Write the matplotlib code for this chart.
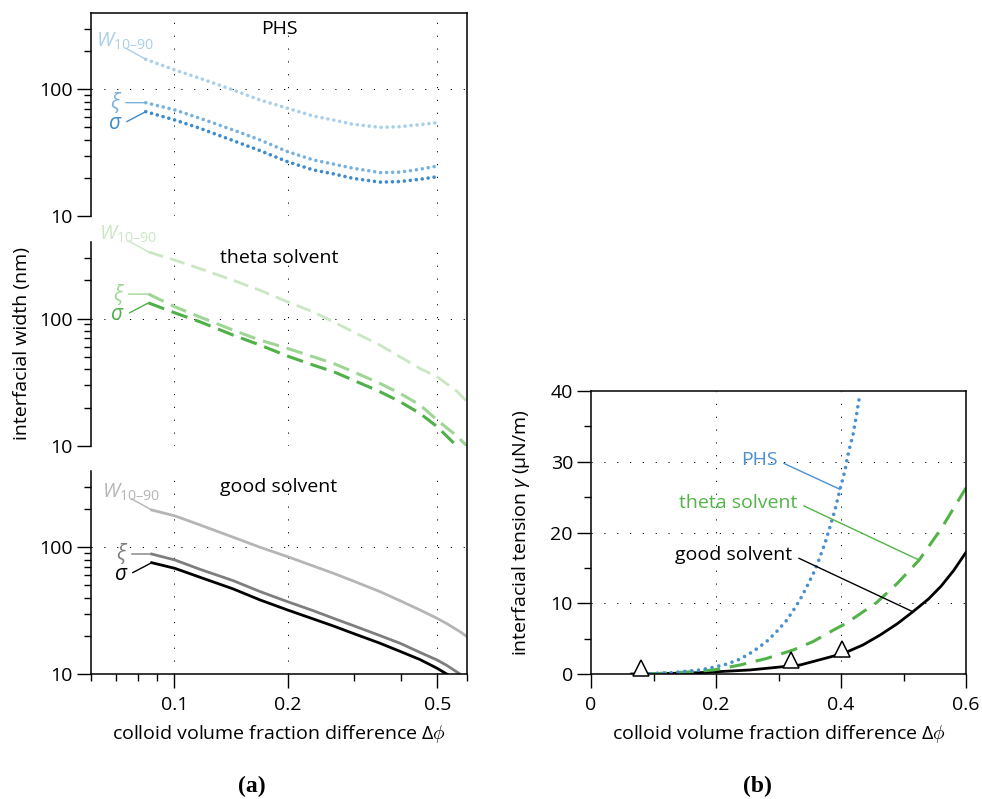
import numpy as np
import matplotlib.pyplot as plt
from matplotlib.lines import Line2D
from matplotlib.ticker import FixedLocator, FixedFormatter, NullFormatter

plt.rcParams['font.family'] = ['Open Sans', 'DejaVu Sans']
plt.rcParams['mathtext.fontset'] = 'custom'
plt.rcParams['mathtext.rm'] = 'Open Sans'
plt.rcParams['mathtext.it'] = 'Open Sans:italic'
plt.rcParams['font.size'] = 14

# ---- panel (a): interfacial widths (nm) vs delta phi ----
# PHS
phs_phi = [0.0839, 0.1003, 0.117, 0.1434, 0.169, 0.2, 0.234, 0.265, 0.299,
           0.352, 0.398, 0.45, 0.4995]
phs_w = [172.5, 142, 122, 98.7, 82.3, 70.8, 61.5, 57.2, 52.9, 50.1, 50.7, 52.6, 54.5]
phs_xi = [78.4, 68.7, 59.0, 47.7, 39.8, 32.2, 27.7, 25.7, 23.8, 22.0, 22.2, 23.4, 24.8]
phs_sig = [66.6, 57.2, 49.2, 39.3, 32.8, 26.8, 23.1, 21.5, 19.8, 18.5, 18.7, 19.5, 20.4]

# theta solvent
theta_phi = [0.0853, 0.1003, 0.117, 0.1434, 0.169, 0.2, 0.234, 0.265, 0.299,
             0.352, 0.398, 0.45, 0.4995, 0.5634, 0.6]
theta_w = [334, 288, 247, 200, 167, 135.5, 113, 94.4, 78.8, 62.0, 50.2, 40.6,
           35.0, 27.0, 22.3]
theta_xi = [156, 124, 103, 81.2, 67.8, 58.4, 50.2, 44.5, 38.3, 31.0, 25.9, 21.0,
            16.0, 12.0, 10.0]
theta_sig = [133, 111, 94.4, 74.2, 62.0, 50.8, 43.2, 38.3, 32.9, 26.7, 22.3,
             18.0, 14.2, 10.0, 8.4]

# good solvent
good_phi = [0.087, 0.1003, 0.117, 0.1434, 0.169, 0.2, 0.234, 0.265, 0.299,
            0.352, 0.398, 0.45, 0.4995, 0.53, 0.5746, 0.6]
good_w = [197, 177, 150, 120, 100, 84.3, 71.2, 62.3, 54.2, 44.7, 37.9, 32.0,
          27.5, 25.0, 21.6, 19.7]
good_xi = [88.5, 79.4, 67.0, 54.5, 44.7, 37.2, 31.6, 27.5, 24.1, 20.1, 17.5,
           14.8, 12.9, 11.7, 10.0, 9.1]
good_sig = [75.6, 68.2, 58.0, 46.9, 38.4, 32.0, 27.2, 23.9, 20.9, 17.5, 15.1,
            13.0, 11.1, 10.0, 8.4, 7.5]

# ---- panel (b): interfacial tension (uN/m) ----
phs_t_phi = [0.095, 0.13, 0.1744, 0.1957, 0.2171, 0.2384, 0.2597, 0.2811,
             0.2971, 0.3131, 0.3237, 0.3344, 0.3451, 0.3557, 0.3637, 0.3744,
             0.3824, 0.3904, 0.3984, 0.4064, 0.4117, 0.4197, 0.4251, 0.4304]
phs_t = [0.05, 0.2, 0.57, 0.95, 1.4, 2.1, 3.2, 4.6, 6.0, 7.6, 9.0, 10.5, 12.3,
         14.2, 15.9, 18.5, 20.8, 23.2, 26.1, 28.8, 31.2, 34.0, 36.8, 39.6]
theta_t_phi = [0.095, 0.15, 0.1957, 0.2384, 0.2811, 0.3237, 0.3557, 0.3877,
               0.409, 0.457, 0.49, 0.525, 0.56, 0.6]
theta_t = [0.03, 0.25, 0.57, 1.27, 2.2, 3.4, 4.6, 6.2, 7.2, 10.1, 12.8, 16.1,
           20.5, 26.3]
good_t_phi = [0.065, 0.1, 0.1744, 0.2544, 0.3344, 0.4037, 0.435, 0.4624, 0.49,
              0.515, 0.54, 0.56, 0.58, 0.6]
good_t = [0.0, 0.03, 0.19, 0.57, 1.27, 2.9, 4.1, 5.5, 7.1, 8.8, 10.6, 12.4,
          14.6, 17.2]
tri_phi = [0.08, 0.3195, 0.401]
tri_t = [0.9, 2.0, 3.6]

blues = ['#a9cfea', '#79b1dd', '#3d8bcb']
greens = ['#c9e7c2', '#9fd595', '#4fb048']
greys = ['#b5b5b5', '#7e7e7e', '#000000']
blue_b = '#4a90d0'
green_b = '#52b448'

W = 982
H = 799
fig = plt.figure(figsize=(W / 100, H / 100), dpi=100)


def frac(x0, y0, x1, y1):
    return [x0 / W, 1 - y1 / H, (x1 - x0) / W, (y1 - y0) / H]


grid = dict(color='black', lw=0.7, linestyle=(0, (1.2, 12)))

ax1 = fig.add_axes(frac(91, 13, 467, 216))
ax2 = fig.add_axes(frac(91, 242, 467, 446))
ax3 = fig.add_axes(frac(91, 471, 467, 674))

panels = [
    (ax1, 'PHS', phs_phi, [phs_w, phs_xi, phs_sig], blues, 'dot'),
    (ax2, 'theta solvent', theta_phi, [theta_w, theta_xi, theta_sig], greens, 'dash'),
    (ax3, 'good solvent', good_phi, [good_w, good_xi, good_sig], greys, 'solid'),
]

labels = ['$W_{\\mathrm{10–90}}$', r'$\xi$', r'$\sigma$']
# label offsets (points) relative to curve start: text, leader start
text_off = [(-35.5, 9.0), (-17, 0), (-17, -8.6)]
lead_off = [(-14.4, 8.0), (-14.4, 0), (-13.7, -7.2)]

for ax, title, phi, series, cols, style in panels:
    ax.set_xscale('log')
    ax.set_yscale('log')
    ax.set_xlim(0.06, 0.6)
    ax.set_ylim(10, 400)
    for k, (vals, c) in enumerate(zip(series, cols)):
        if style == 'dot':
            ax.plot(phi, vals, color=c, lw=2.6, linestyle=(0, (0.01, 1.65)),
                    dash_capstyle='round')
        elif style == 'dash':
            ax.plot(phi, vals, color=c, lw=2.0 if k == 0 else 2.2,
                    linestyle=(0, (5.5, 2.6)))
        else:
            ax.plot(phi, vals, color=c, lw=2.0)
        ax.annotate('', xy=(phi[0], vals[0]), xytext=lead_off[k],
                    textcoords='offset points',
                    arrowprops=dict(arrowstyle='-', color=c, lw=1.0,
                                    shrinkA=0, shrinkB=0))
        if k == 0:
            ax.annotate(labels[k], xy=(phi[0], vals[0]), xytext=text_off[k],
                        textcoords='offset points', ha='left', va='baseline',
                        color=c, fontsize=14.5)
        else:
            ax.annotate(labels[k], xy=(phi[0], vals[0]), xytext=text_off[k],
                        textcoords='offset points', ha='right', va='center',
                        color=c, fontsize=15)
    ax.text(0.5, 0.92, title, transform=ax.transAxes, ha='center',
            va='center', fontsize=14)
    for gx in [0.1, 0.2, 0.5]:
        ax.axvline(gx, **grid, zorder=0)
    for gy in [10, 100]:
        ax.axhline(gy, **grid, zorder=0)
    ax.yaxis.set_major_locator(FixedLocator([10, 100]))
    ax.yaxis.set_major_formatter(FixedFormatter(['10', '100']))
    ax.yaxis.set_minor_locator(FixedLocator([20, 30, 40, 50, 60, 70, 80, 90, 200, 300]))
    ax.yaxis.set_minor_formatter(NullFormatter())
    ax.xaxis.set_major_locator(FixedLocator([0.1, 0.2, 0.5]))
    ax.xaxis.set_major_formatter(FixedFormatter(['0.1', '0.2', '0.5']))
    ax.xaxis.set_minor_locator(FixedLocator([0.06, 0.07, 0.08, 0.09, 0.3, 0.4, 0.6]))
    ax.xaxis.set_minor_formatter(NullFormatter())
    ax.tick_params(which='major', length=10, width=1.0, direction='out',
                   labelsize=14)
    ax.tick_params(which='minor', length=5, width=1.0, direction='out')
    ax.tick_params(axis='y', pad=3)
    ax.tick_params(axis='x', pad=6)
    for s in ['top', 'right', 'bottom']:
        ax.spines[s].set_visible(False)
    ax.spines['left'].set_linewidth(1.1)
    if ax is not ax3:
        ax.tick_params(axis='x', which='both', bottom=False, labelbottom=False)

ax1.spines['top'].set_visible(True)
ax1.spines['top'].set_linewidth(1.1)
ax3.spines['bottom'].set_visible(True)
ax3.spines['bottom'].set_linewidth(1.1)
fig.add_artist(Line2D([467 / W, 467 / W], [1 - 13 / H, 1 - 674 / H],
                      transform=fig.transFigure, color='black', lw=1.1))

ax3.set_xlabel(r'colloid volume fraction difference $\Delta\phi$', fontsize=14,
               labelpad=6)
fig.text(22 / W, 1 - 343 / H, 'interfacial width (nm)', rotation=90,
         ha='center', va='center', fontsize=14)

# ---- panel (b) ----
axb = fig.add_axes(frac(591, 391, 966, 674))
axb.set_xlim(0, 0.6)
axb.set_ylim(0, 40)
axb.plot(good_t_phi, good_t, color='black', lw=2.0)
axb.plot(theta_t_phi, theta_t, color=green_b, lw=2.2, linestyle=(0, (5.5, 3.2)))
axb.plot(phs_t_phi, phs_t, color=blue_b, lw=2.6, linestyle=(0, (0.01, 1.9)),
         dash_capstyle='round')
axb.plot(tri_phi, tri_t, linestyle='none', marker='^', ms=12,
         markerfacecolor='white', markeredgecolor='black', mew=1.1,
         clip_on=False, zorder=5)
for gx in [0.2, 0.4]:
    axb.axvline(gx, **grid, zorder=0)
for gy in [10, 20, 30]:
    axb.axhline(gy, **grid, zorder=0)

axb.annotate('PHS', xy=(0.3984, 26.1), xytext=(0.298, 30.2), ha='right',
             va='center', color=blue_b, fontsize=14,
             arrowprops=dict(arrowstyle='-', color=blue_b, lw=1.0,
                             shrinkA=3, shrinkB=0, relpos=(1, 0.5)))
axb.annotate('theta solvent', xy=(0.525, 16.1), xytext=(0.33, 24.2), ha='right',
             va='center', color=green_b, fontsize=14,
             arrowprops=dict(arrowstyle='-', color=green_b, lw=1.0,
                             shrinkA=3, shrinkB=0, relpos=(1, 0.5)))
axb.annotate('good solvent', xy=(0.515, 8.8), xytext=(0.322, 16.8), ha='right',
             va='center', color='black', fontsize=14,
             arrowprops=dict(arrowstyle='-', color='black', lw=1.0,
                             shrinkA=3, shrinkB=0, relpos=(1, 0.5)))

axb.xaxis.set_major_locator(FixedLocator([0, 0.2, 0.4, 0.6]))
axb.xaxis.set_major_formatter(FixedFormatter(['0', '0.2', '0.4', '0.6']))
axb.xaxis.set_minor_locator(FixedLocator([0.1, 0.3, 0.5]))
axb.yaxis.set_major_locator(FixedLocator([0, 10, 20, 30, 40]))
axb.yaxis.set_minor_locator(FixedLocator([5, 15, 25, 35]))
axb.tick_params(which='major', length=10, width=1.0, direction='out',
                labelsize=14)
axb.tick_params(which='minor', length=5, width=1.0, direction='out')
axb.tick_params(axis='y', pad=3)
axb.tick_params(axis='x', pad=6)
for s in axb.spines.values():
    s.set_linewidth(1.1)
axb.set_xlabel(r'colloid volume fraction difference $\Delta\phi$', fontsize=14,
               labelpad=6)
axb.set_ylabel(r'interfacial tension $\gamma$ (µN/m)', fontsize=14, labelpad=13)

fig.text(252 / W, 1 - 786 / H, '(a)', ha='center', va='center',
         fontsize=17, fontweight='bold', family='Liberation Serif')
fig.text(757 / W, 1 - 786 / H, '(b)', ha='center', va='center',
         fontsize=17, fontweight='bold', family='Liberation Serif')

fig.savefig('out.png', dpi=100)
